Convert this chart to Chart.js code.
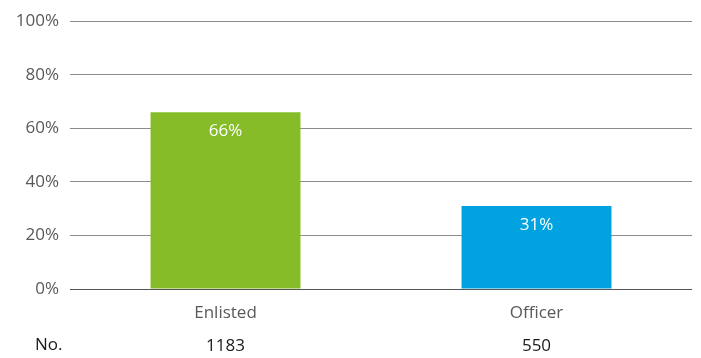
<!DOCTYPE html>
<html>
<head>
<meta charset="utf-8">
<script src="https://cdn.jsdelivr.net/npm/chart.js@4.4.0/dist/chart.umd.min.js"></script>
<style>
  html, body { margin: 0; padding: 0; background: #fff; }
  #wrap { width: 701px; height: 358px; }
</style>
</head>
<body>
<div id="wrap"><canvas id="chart" width="701" height="358"></canvas></div>
<script>
// Chart data
const categories = ['Enlisted', 'Officer'];
const shares = [66, 31]; // percent
const counts = [1183, 550];
const yTicks = [0, 20, 40, 60, 80, 100];
const barColors = ['#85bc28', '#00a3e0'];

const font = 'Open Sans';
const fontSize = 17;

// draws the value inside the top of each bar
const barLabels = {
  id: 'barLabels',
  afterDatasetsDraw(chart) {
    const ctx = chart.ctx;
    const meta = chart.getDatasetMeta(0);
    ctx.save();
    ctx.font = fontSize + 'px "' + font + '"';
    ctx.fillStyle = '#ffffff';
    ctx.textAlign = 'center';
    ctx.textBaseline = 'middle';
    meta.data.forEach((bar, i) => {
      ctx.fillText(shares[i] + '%', bar.x, bar.y + 19);
    });
    ctx.restore();
  }
};

// "No." row under the category labels
const countRow = {
  id: 'countRow',
  afterDraw(chart) {
    const ctx = chart.ctx;
    const x = chart.scales.x;
    ctx.save();
    ctx.font = fontSize + 'px "' + font + '"';
    ctx.fillStyle = '#1a1a1a';
    ctx.textBaseline = 'middle';
    ctx.textAlign = 'left';
    ctx.fillText('No.', 35, 345);
    ctx.textAlign = 'center';
    counts.forEach((n, i) => {
      ctx.fillText(String(n), x.getPixelForValue(i), 346);
    });
    ctx.restore();
  }
};

chart = new Chart(document.getElementById('chart').getContext('2d'), {
  type: 'bar',
  data: {
    labels: categories,
    datasets: [{
      data: shares,
      backgroundColor: barColors,
      borderWidth: 0,
      barPercentage: 1,
      categoryPercentage: 0.482
    }]
  },
  options: {
    responsive: false,
    animation: false,
    devicePixelRatio: 1,
    layout: { padding: { top: 18, right: 9, bottom: 0, left: 0 } },
    plugins: {
      legend: { display: false },
      tooltip: { enabled: false }
    },
    scales: {
      x: {
        grid: { display: false },
        border: { display: false },
        ticks: {
          color: '#595959',
          padding: 6,
          font: { family: font, size: fontSize }
        },
        afterFit(axis) { axis.height = 69; }
      },
      y: {
        min: 0,
        max: 100,
        afterBuildTicks(axis) { axis.ticks = yTicks.map(v => ({ value: v })); },
        grid: {
          drawTicks: false,
          color: ctx => ctx.tick && ctx.tick.value === 0 ? '#555555' : '#8c8c8c',
          lineWidth: 1
        },
        border: { display: false },
        ticks: {
          color: '#595959',
          padding: 11,
          font: { family: font, size: fontSize },
          callback: v => v + '%'
        },
        afterFit(axis) { axis.width = 70; }
      }
    }
  },
  plugins: [barLabels, countRow]
});
</script>
</body>
</html>
